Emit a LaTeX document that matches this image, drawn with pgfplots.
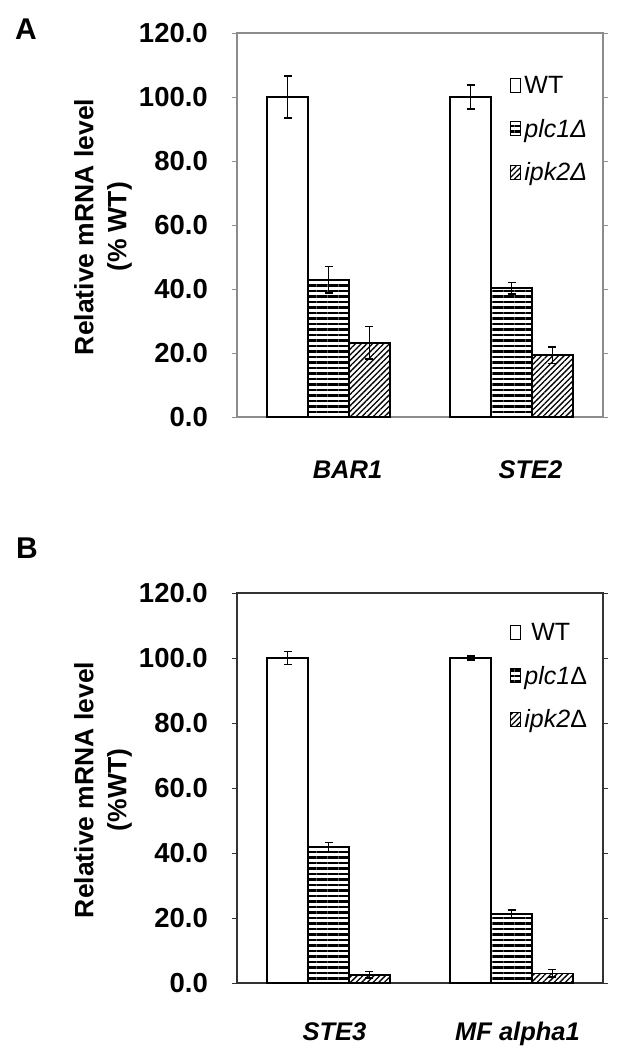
\documentclass[border=0pt]{standalone}
\usepackage{fontspec}
\setmainfont{Liberation Sans}
\usepackage{pgfplots}
\pgfplotsset{compat=1.18}
\usetikzlibrary{patterns.meta}

\pgfplotsset{
  /pgfplots/ybar legend/.style={
    /pgfplots/legend image code/.code={%
      \draw[##1,line width=1bp] (0bp,-7bp) rectangle (10bp,7bp);}},
  panel/.style={
    scale only axis, width=366bp, anchor=south west,
    xmin=-0.5, xmax=1.5, ymin=0, ymax=120,
    ybar=0pt, bar width=0.224,
    xtick={0,1}, major x tick style={draw=none},
    ytick={0,20,...,120},
    tick align=outside, major tick length=5bp,
    /pgf/number format/fixed, /pgf/number format/fixed zerofill,
    /pgf/number format/precision=1, /pgf/number format/assume math mode=true,
    yticklabel style={font=\fontsize{27.5bp}{27.5bp}\selectfont\bfseries, anchor=east, inner sep=0pt, xshift=-24bp},
    xticklabel style={font=\fontsize{25.5bp}{25.5bp}\selectfont\bfseries\itshape, anchor=base, inner sep=0pt},
    ylabel style={align=center, font=\fontsize{26.5bp}{33bp}\selectfont\bfseries, at={(axis description cs:-0.366,0.495)}, anchor=center},
    legend style={draw=none, fill=none, anchor=north west, inner sep=0pt, outer sep=0pt,
      nodes={inner sep=1bp}, row sep=22bp, column sep=2bp,
      font=\fontsize{25bp}{25bp}\selectfont},
    legend cell align=left,
  },
  ebar/.style={error bars/.cd, y dir=both, y explicit,
    error bar style={line width=1.6bp, black},
    error mark options={rotate=90, mark size=4bp, line width=1.6bp, black}},
}

\begin{document}
\begin{tikzpicture}
\useasboundingbox (0,0) rectangle (617bp,-1050bp);

\node[font=\fontsize{30bp}{30bp}\selectfont\bfseries] at (26bp,-29bp) {A};
\node[font=\fontsize{30bp}{30bp}\selectfont\bfseries] at (27bp,-548bp) {B};

% Panel A
\begin{axis}[panel, at={(237bp,-417bp)}, height=384bp,
  axis line style={draw=black!45, line width=1.2bp},
  tick style={draw=black!45, line width=1bp},
  xticklabels={BAR1,STE2},
  xticklabel style={yshift=-56bp, xshift=19bp},
  ylabel={Relative mRNA level\\(\% WT)},
  legend style={at={(axis description cs:0.747,0.89)}},
]
\addplot[draw=black, line width=1.8bp, fill=white, ebar] table[x=x,y=y,y error=e]{
x y e
0 100 6.5
1 100 3.7
};
\addlegendentry{WT}
\addplot[draw=black, line width=1.8bp, pattern={Lines[angle=0,distance=5.5bp,line width=2.4bp]}, ebar] table[x=x,y=y,y error=e]{
x y e
0 42.9 4.1
1 40.2 1.8
};
\addlegendentry{\textit{plc1Δ}}
\addplot[draw=black, line width=1.8bp, pattern={Lines[angle=45,distance=4bp,line width=1.3bp]}, ebar] table[x=x,y=y,y error=e]{
x y e
0 23.2 5.1
1 19.3 2.6
};
\addlegendentry{\textit{ipk2Δ}}
\end{axis}

% Panel B
\begin{axis}[panel, at={(237bp,-983bp)}, height=390bp,
  axis line style={draw=black!80, line width=1.2bp},
  tick style={draw=black!80, line width=1bp},
  xticklabels={STE3,MF alpha1},
  xticklabel style={yshift=-52bp, xshift=6bp},
  ylabel={Relative mRNA level\\(\%WT)},
  legend style={at={(axis description cs:0.747,0.925)}},
]
\addplot[draw=black, line width=1.5bp, fill=white, ebar] table[x=x,y=y,y error=e]{
x y e
0 100 2.0
1 100 0.6
};
\addlegendentry{\ WT}
\addplot[draw=black, line width=1.5bp, pattern={Lines[angle=0,distance=5.5bp,line width=2.4bp]}, ebar] table[x=x,y=y,y error=e]{
x y e
0 41.8 1.4
1 21.2 1.2
};
\addlegendentry{\textit{plc1}Δ}
\addplot[draw=black, line width=1.5bp, pattern={Lines[angle=45,distance=4bp,line width=1.3bp]}, ebar] table[x=x,y=y,y error=e]{
x y e
0 2.5 1.0
1 3.0 1.1
};
\addlegendentry{\textit{ipk2}Δ}
\end{axis}
\end{tikzpicture}
\end{document}
